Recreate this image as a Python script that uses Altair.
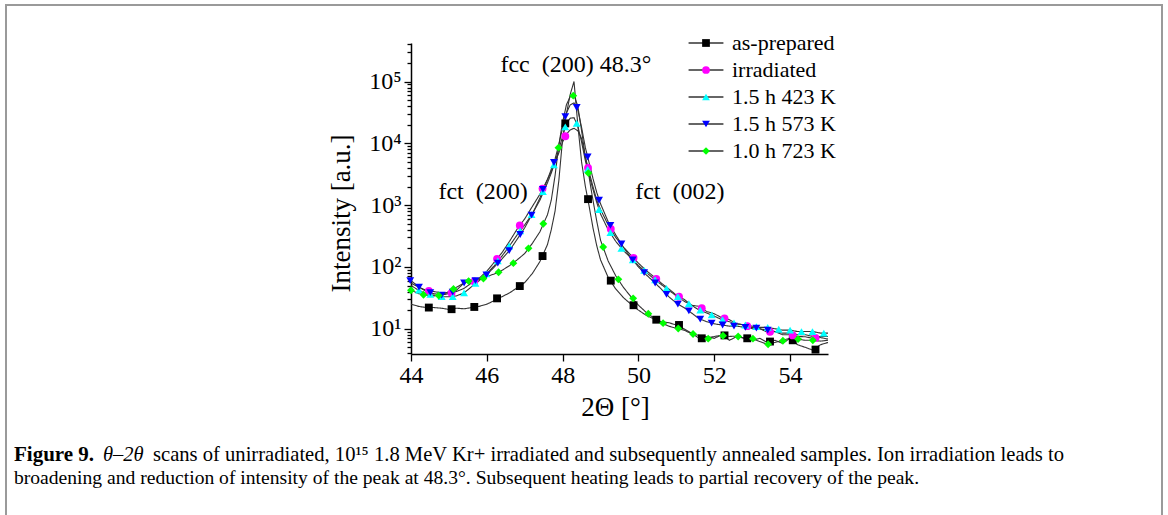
import altair as alt
import pandas as pd

FONT = "Liberation Serif"

SERIES = ["as-prepared", "irradiated", "1.5 h 423 K", "1.5 h 573 K", "1.0 h 723 K"]
COLORS = ["#000000", "#ff00ff", "#00ffff", "#0000ff", "#00ff00"]
SHAPES = ["square", "circle", "triangle-up", "triangle-down", "diamond"]

# common x grid of the traced curves (2-theta, degrees)
GRID_X = [44.0, 44.2, 44.4, 44.6, 44.8, 45.0, 45.2, 45.4, 45.6, 45.8,
          46.0, 46.2, 46.4, 46.6, 46.8, 47.0, 47.2, 47.4, 47.6,
          47.7, 47.8, 47.9, 48.0, 48.1, 48.2, 48.3, 48.4, 48.5, 48.6, 48.7, 48.8, 48.9,
          49.0, 49.2, 49.4, 49.6, 49.8, 50.0, 50.2, 50.4, 50.6, 50.8,
          51.0, 51.2, 51.4, 51.6, 51.8, 52.0, 52.2, 52.4, 52.6, 52.8,
          53.0, 53.2, 53.4, 53.6, 53.8, 54.0, 54.2, 54.4, 54.6, 54.8, 55.0]

LINE_ASPREP = [25, 23, 22, 22, 21.5, 20.5, 21.5, 21, 22, 23,
               25, 28.5, 33, 38, 46, 56, 78, 122, 230,
               400, 800, 2500, 12000, 30000, 62000, 100000, 20000, 5000, 2000, 950, 430, 220,
               130, 68, 44, 32, 25, 20, 16.5, 14.5, 13, 12.5,
               11.5, 10, 8.5, 7, 7.5, 7, 8, 6.5, 7.5, 7,
               6.5, 7, 6, 6.5, 5.8, 7, 5.5, 5, 4.5, 5.5, 6]
LINE_IRR = [55, 47, 42, 40, 38, 38, 40, 45, 55, 66,
            85, 120, 170, 260, 410, 600, 950, 1500, 2600,
            3500, 5000, 7000, 10500, 14000, 16500, 17500, 16000, 12000, 6000, 3400, 2000, 1200,
            850, 480, 300, 210, 155, 115, 88, 70, 55, 44,
            35, 30, 24, 23, 19, 17.5, 15, 14, 12, 11.5,
            10, 10, 8.8, 9, 8, 8, 7.5, 7.4, 7, 7.2, 6.8]
LINE_423 = [50, 42, 37, 35, 33, 33, 34, 38, 48, 60,
            78, 105, 150, 220, 330, 480, 720, 1200, 2300,
            3300, 5000, 8000, 13000, 21000, 25500, 26000, 19000, 10500, 5200, 3000, 1800, 1100,
            720, 400, 260, 185, 140, 105, 82, 65, 52, 42,
            34, 28, 24, 20, 18, 16, 14, 13, 12, 11.5,
            11, 10.5, 10.5, 10, 9.5, 9.5, 9, 9, 9, 8.5, 8.5]
LINE_573 = [60, 48, 40, 37, 35, 37, 42, 55, 58, 62,
            75, 100, 135, 185, 280, 430, 720, 1300, 2600,
            3800, 5600, 9500, 18000, 31000, 42000, 45000, 35000, 18000, 8500, 4800, 2700, 1600,
            1050, 540, 330, 210, 140, 100, 75, 58, 44, 33,
            26, 22, 18, 14.5, 13, 12, 11.5, 11, 11, 10.5,
            10.5, 10, 9.5, 9, 8.5, 8.5, 8, 8, 7.5, 7.5, 7.5]
LINE_723 = [42, 37, 35, 34, 35, 40, 47, 55, 62, 65,
            70, 77, 88, 105, 130, 165, 240, 370, 700,
            1200, 3000, 9500, 22000, 42000, 57000, 60000, 40000, 16000, 6000, 2800, 1200, 550,
            270, 125, 72, 47, 33, 24, 18.5, 15, 12.5, 11,
            10.2, 9.5, 8.3, 7.8, 7, 7.5, 7.8, 7.5, 7.6, 7,
            6.9, 6.2, 5.6, 6, 6.5, 7, 6.8, 6.5, 6.5, 6.3, 6.5]

# marker positions / values
SQ_X = [44.47, 45.07, 45.67, 46.27, 46.87, 47.47, 48.07, 48.67, 49.27, 49.87,
        50.47, 51.07, 51.67, 52.27, 52.87, 53.47, 54.07, 54.67]
ASPREP_MK = [22, 20.7, 22.5, 31, 49, 150, 21000, 1250, 60, 24,
             14, 11.5, 7, 7.8, 7, 6.2, 6.5, 4.6]
IRR_MK = [41, 38, 58, 135, 470, 1850, 13000, 4000, 410, 140,
          64, 33, 21.5, 14.7, 11, 8.9, 7.8, 7.1]

TRI_X_423 = [44.21, 44.51, 44.81, 45.10, 45.40, 45.70, 45.99, 46.29, 46.59, 46.88,
             47.18, 47.48, 47.77, 48.07, 48.37, 48.66, 48.96, 49.26, 49.55, 49.85,
             50.15, 50.44, 50.74, 51.04, 51.33, 51.63, 51.93, 52.22, 52.52, 52.82,
             53.11, 53.41, 53.70, 54.00, 54.30, 54.59, 54.89]
MK_423 = [42, 36, 33, 33, 38, 54, 77, 125, 218, 385,
          700, 1650, 4500, 18500, 21000, 3800, 850, 360, 200, 130,
          88, 62, 45, 33, 25.5, 20, 16.8, 14, 12.4, 11.5,
          10.8, 10.5, 9.8, 9.5, 9, 9, 8.5]

TRI_X_573 = [43.98, 44.21, 44.51, 44.81, 45.10, 45.40, 45.70, 45.99, 46.29, 46.59,
             46.88, 47.18, 47.48, 47.77, 48.07, 48.37, 48.66, 48.96, 49.26, 49.55,
             49.85, 50.15, 50.44, 50.74, 51.04, 51.33, 51.63, 51.93, 52.22, 52.52,
             52.82, 53.11, 53.41]
MK_573 = [60, 47, 38.5, 35, 39, 55, 60, 74, 115, 183,
          335, 690, 1800, 4900, 27000, 38000, 6000, 1200, 470, 235,
          130, 81, 55, 36, 25, 19.5, 14.3, 12.3, 11.5, 11,
          10.5, 10.2, 9.5]

DIA_X = [44.0, 44.33, 44.73, 45.12, 45.52, 45.91, 46.31, 46.70, 47.10, 47.49,
         47.89, 48.28, 48.68, 49.07, 49.47, 49.86, 50.26, 50.65, 51.05, 51.44,
         51.84, 52.23, 52.63, 53.02, 53.42, 53.81, 54.21, 54.60]
MK_723 = [42, 35.5, 34.5, 44, 59, 65, 82, 115, 200, 500,
          8500, 59000, 3300, 210, 63, 31, 17.5, 12.3, 10.1, 8.2,
          6.9, 7.7, 7.5, 6.9, 5.6, 6.4, 6.8, 6.5]

ANN_X = [48.35, 45.9, 51.09]
ANN_Y = [186000, 1630, 1630]
ANN_TEXT = ["fcc\u2002(200) 48.3°", "fct\u2002(200)", "fct\u2002(002)"]

X_TICKS = [44, 45, 46, 47, 48, 49, 50, 51, 52, 53, 54, 55]
Y_TICKS = [m * 10 ** k for k in range(0, 6) for m in range(1, 10) if 3.9 <= m * 10 ** k <= 420000]

CAPTION_BOLD = "Figure 9."
CAPTION_ITALIC = "θ–2θ"
CAPTION_LINE1 = "scans of unirradiated, 10¹⁵ 1.8 MeV Kr+ irradiated and subsequently annealed samples. Ion irradiation leads to"
CAPTION_LINE2 = "broadening and reduction of intensity of the peak at 48.3°. Subsequent heating leads to partial recovery of the peak."

# ---------- tables ----------
line_rows = []
for name, vals in zip(SERIES, [LINE_ASPREP, LINE_IRR, LINE_423, LINE_573, LINE_723]):
    for x, y in zip(GRID_X, vals):
        line_rows.append({"x": x, "y": y, "key": "L " + name})
line_df = pd.DataFrame(line_rows)

pt_rows = []
for name, xs, ys in zip(SERIES, [SQ_X, SQ_X, TRI_X_423, TRI_X_573, DIA_X],
                        [ASPREP_MK, IRR_MK, MK_423, MK_573, MK_723]):
    for x, y in zip(xs, ys):
        pt_rows.append({"x": x, "y": y, "series": name})
pt_df = pd.DataFrame(pt_rows)

ann_df = pd.DataFrame({"x": ANN_X, "y": ANN_Y, "label": ANN_TEXT})

xscale = alt.Scale(domain=[44, 55], nice=False, zero=False)
yscale = alt.Scale(type="log", domain=[3.9, 420000], nice=False)

x_axis = alt.Axis(
    values=X_TICKS,
    labelExpr="datum.value % 2 === 0 ? datum.label : ''",
    tickSize={"condition": {"test": "datum.value % 2 === 0", "value": 7}, "value": 4},
    grid=False, domainColor="black", domainWidth=1.5, tickColor="black", tickWidth=1.3,
    labelFont=FONT, labelFontSize=24, labelColor="black", labelPadding=2,
    labelFlush=False, labelOverlap=False,
    titleFont=FONT, titleFontSize=27, titleFontWeight="normal", titleColor="black",
    titleX=204, titleY=53, titleBaseline="middle",
)
y_axis = alt.Axis(
    values=Y_TICKS,
    labelExpr=("datum.value === 10 ? '10¹' : datum.value === 100 ? '10²' : "
               "datum.value === 1000 ? '10³' : datum.value === 10000 ? '10⁴' : "
               "datum.value === 100000 ? '10⁵' : ''"),
    tickSize={"condition": {"test": "indexof([10, 100, 1000, 10000, 100000], datum.value) >= 0",
                            "value": 7}, "value": 4},
    grid=False, domainColor="black", domainWidth=1.5, tickColor="black", tickWidth=1.3,
    labelFont=FONT, labelFontSize=24, labelColor="black", labelPadding=3,
    labelFlush=False, labelOverlap=False,
    titleFont=FONT, titleFontSize=27, titleFontWeight="normal", titleColor="black",
    titleX=-70, titleY=170, titleBaseline="middle",
)

leg_common = dict(orient="none", legendX=284, legendY=-11, padding=0, offset=0,
                  labelFont=FONT, labelFontSize=22, labelColor="black",
                  symbolSize=60, rowPadding=5, labelOffset=15, labelLimit=400)

lines = alt.Chart(line_df).mark_line(color="#333333", strokeWidth=1.1).encode(
    x=alt.X("x:Q", scale=xscale, axis=x_axis, title="2Θ [°]"),
    y=alt.Y("y:Q", scale=yscale, axis=y_axis, title="Intensity [a.u.]"),
    strokeDash=alt.StrokeDash(
        "key:N",
        scale=alt.Scale(domain=["L " + s for s in SERIES], range=[[1, 0]] * 5),
        legend=alt.Legend(symbolType="M-4.5,0H4.5", symbolStrokeColor="#333333",
                          symbolStrokeWidth=1.3, labelExpr="''", zindex=1, **leg_common),
        title=None,
    ),
)

points = alt.Chart(pt_df).mark_point(filled=True, size=62, opacity=1, strokeWidth=0).encode(
    x=alt.X("x:Q", scale=xscale),
    y=alt.Y("y:Q", scale=yscale),
    color=alt.Color("series:N", scale=alt.Scale(domain=SERIES, range=COLORS),
                    legend=alt.Legend(symbolStrokeWidth=0, zindex=2, **leg_common), title=None),
    shape=alt.Shape("series:N", scale=alt.Scale(domain=SERIES, range=SHAPES),
                    legend=alt.Legend(symbolStrokeWidth=0, zindex=2, **leg_common), title=None),
)

ann = alt.Chart(ann_df).mark_text(font=FONT, fontSize=24, color="black",
                                  align="center", baseline="middle").encode(
    x=alt.X("x:Q", scale=xscale), y=alt.Y("y:Q", scale=yscale), text="label:N")

one = pd.DataFrame({"k": [0]})
frame = alt.Chart(one).mark_rect(fillOpacity=0, stroke="#9a9a9a", strokeWidth=2).encode(
    x=alt.value(-405), x2=alt.value(751), y=alt.value(-38), y2=alt.value(490))

CAP_X0 = -397
cap1 = alt.Chart(one).mark_text(font=FONT, fontSize=21, fontWeight="bold", align="left",
                                baseline="middle", color="black", text=CAPTION_BOLD).encode(
    x=alt.value(CAP_X0), y=alt.value(412))
cap2 = alt.Chart(one).mark_text(font=FONT, fontSize=20.5, fontStyle="italic", align="left",
                                baseline="middle", color="black", text=CAPTION_ITALIC).encode(
    x=alt.value(CAP_X0 + 89), y=alt.value(412))
cap3 = alt.Chart(one).mark_text(font=FONT, fontSize=20.6, align="left", baseline="middle",
                                color="black", text=CAPTION_LINE1).encode(
    x=alt.value(CAP_X0 + 139), y=alt.value(412))
cap4 = alt.Chart(one).mark_text(font=FONT, fontSize=19.6, align="left", baseline="middle",
                                color="black", text=CAPTION_LINE2).encode(
    x=alt.value(CAP_X0), y=alt.value(435))

chart = alt.layer(frame, lines, points, ann, cap1, cap2, cap3, cap4).properties(
    width=417, height=311,
    padding={"left": 411, "top": 43, "right": 340, "bottom": 161},
    autosize="none", background="white",
).configure_view(strokeWidth=0)

chart.save("out.html", embed_options={"renderer": "svg", "actions": False})
